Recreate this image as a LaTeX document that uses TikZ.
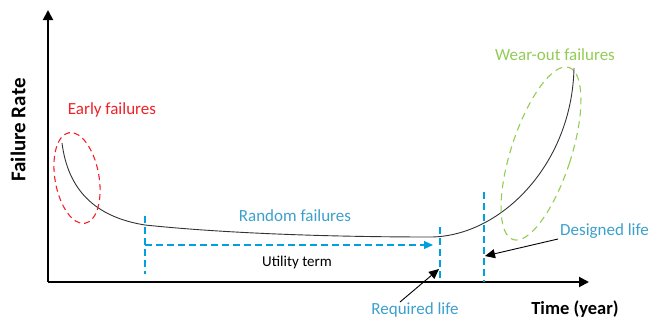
\documentclass[tikz,border=0pt]{standalone}
\usepackage{fontspec}
\setmainfont{Carlito}
\usetikzlibrary{arrows.meta}
\definecolor{ered}{RGB}{238,34,40}
\definecolor{rblue}{RGB}{0,160,224}
\definecolor{tblue}{RGB}{60,160,205}
\definecolor{wgreen}{RGB}{146,204,84}
\tikzset{
  axis/.style={line width=2pt,-{Triangle[length=10pt,width=10pt]}},
  bluedash/.style={rblue,line width=1.2pt,dash pattern=on 7pt off 4pt},
  lbl/.style={font=\fontsize{17}{19}\selectfont,inner sep=0pt},
  pointer/.style={black,line width=0.9pt,-{Triangle[length=10pt,width=9pt]}},
}
\begin{document}
\begin{tikzpicture}[x=1pt,y=-1pt]
\useasboundingbox (0,0) rectangle (648,327);
% axes
\coordinate (O) at (48,282);
\coordinate (ytop) at (48,10);
\coordinate (xend) at (589,282);
\draw[axis] (O) -- (ytop);
\draw[axis] (O) -- (xend);
\node[inner sep=0pt,rotate=90,font=\fontsize{21}{23}\selectfont\bfseries] (ylab) at (18,130) {Failure Rate};
\node[inner sep=0pt,font=\fontsize{18.5}{21}\selectfont\bfseries] (xlab) at (575,309) {Time (year)};
% bathtub curve
\draw[black!80,line width=0.9pt] (62,143) .. controls (68,190) and (95,217) .. (145,225)
  .. controls (250,236) and (380,237) .. (430,237)
  .. controls (500,237) and (572,165) .. (574,68);
% ellipses
\draw[ered,line width=1.1pt,dash pattern=on 6pt off 4pt,rotate around={10:(77,178)}] (77,178) ellipse [x radius=22,y radius=46];
\draw[wgreen,line width=1.1pt,dash pattern=on 7pt off 5pt,rotate around={-18:(541,153.5)}] (541,153.5) ellipse [x radius=30,y radius=90.5];
% labels
\node[lbl,text=ered] (early) at (112,110) {Early failures};
\node[lbl,text=wgreen] (wear) at (555,55) {Wear-out failures};
\node[lbl,text=tblue] (random) at (295,216) {Random failures};
\node[lbl,text=black,font=\fontsize{15}{17}\selectfont] (util) at (297,262) {Utility term};
\node[lbl,text=tblue,anchor=west] (designed) at (560,231) {Designed life};
\node[lbl,text=tblue] (required) at (415,310) {Required life};
% blue dashed markers
\coordinate (s1) at (145,216);
\coordinate (s1b) at (145,274);
\coordinate (r1) at (440,227);
\coordinate (r1b) at (440,282);
\coordinate (d1) at (484,192);
\coordinate (d1b) at (484,282);
\draw[bluedash] (s1) -- (s1b);
\draw[bluedash] (r1) -- (r1b);
\draw[bluedash] (d1) -- (d1b);
\coordinate (ua) at (145,245);
\coordinate (ub) at (433,245);
\draw[bluedash,-{Triangle[length=9pt,width=8pt]}] (ua) -- (ub);
% pointers
\coordinate (dfrom) at (558,239);
\coordinate (dtip) at (485,256);
\coordinate (rfrom) at (400,302);
\coordinate (rtip) at (439,269);
\draw[pointer] (dfrom) -- (dtip);
\draw[pointer] (rfrom) -- (rtip);
\end{tikzpicture}
\end{document}
